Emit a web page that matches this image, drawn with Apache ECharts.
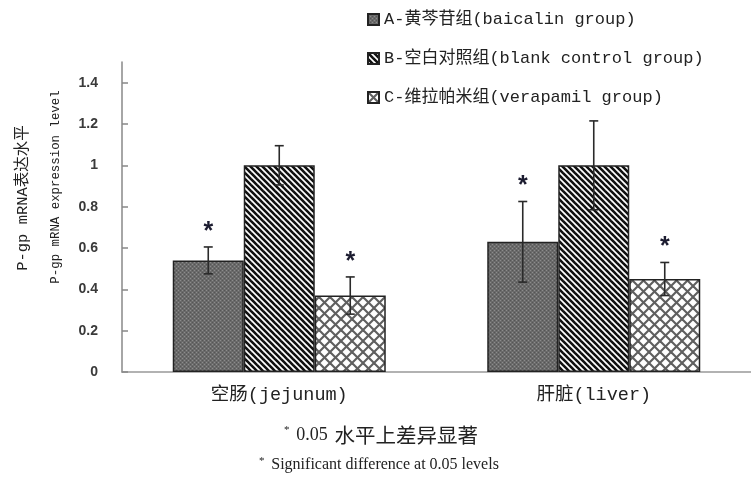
<!DOCTYPE html>
<html>
<head>
<meta charset="utf-8">
<script src="https://cdn.jsdelivr.net/npm/echarts@6/dist/echarts.min.js"></script>
<style>html,body{margin:0;padding:0;background:#fff}#c{width:751px;height:478px}</style>
</head>
<body>
<div id="c"></div>
<script>
// ---- data ----
const categories = ['空肠(jejunum)', '肝脏(liver)'];
const seriesNames = ['A-黄芩苷组(baicalin group)', 'B-空白对照组(blank control group)', 'C-维拉帕米组(verapamil group)'];
const valuesA = [0.54, 0.63];
const valuesB = [1.00, 1.00];
const valuesC = [0.37, 0.45];
const errorsA = [0.065, 0.195];
const errorsB = [0.095, 0.215];
const errorsC = [0.09, 0.08];
const signifA = [true, true];
const signifB = [false, false];
const signifC = [true, true];
const yTicks = [0, 0.2, 0.4, 0.6, 0.8, 1, 1.2, 1.4];
const yName1 = 'P-gp mRNA表达水平';
const yName2 = 'P-gp mRNA expression level';
const note1Num = '0.05';
const note1Txt = '水平上差异显著';
const note2 = 'Significant difference at 0.05 levels';

// ---- patterns ----
function makePattern(kind) {
  const c = document.createElement('canvas');
  let ctx;
  if (kind === 'A') {
    c.width = 4; c.height = 4; ctx = c.getContext('2d');
    ctx.fillStyle = '#6a6a6a'; ctx.fillRect(0, 0, 4, 4);
    ctx.fillStyle = '#8c8c8c'; ctx.fillRect(0, 0, 1, 1); ctx.fillRect(2, 2, 1, 1);
    ctx.fillStyle = '#555'; ctx.fillRect(2, 0, 1, 1); ctx.fillRect(0, 2, 1, 1);
  } else if (kind === 'B') {
    const s = 6; c.width = s; c.height = s; ctx = c.getContext('2d');
    ctx.fillStyle = '#fff'; ctx.fillRect(0, 0, s, s);
    ctx.strokeStyle = '#111'; ctx.lineWidth = 2.6;
    for (let k = -1; k <= 1; k++) {
      ctx.beginPath(); ctx.moveTo(k * s - 1, -1); ctx.lineTo(k * s + s + 1, s + 1); ctx.stroke();
    }
  } else {
    const s = 11; c.width = s; c.height = s; ctx = c.getContext('2d');
    ctx.fillStyle = '#fff'; ctx.fillRect(0, 0, s, s);
    ctx.strokeStyle = '#5f5f5f'; ctx.lineWidth = 2.1;
    ctx.beginPath(); ctx.moveTo(-1, -1); ctx.lineTo(s + 1, s + 1); ctx.stroke();
    ctx.beginPath(); ctx.moveTo(s + 1, -1); ctx.lineTo(-1, s + 1); ctx.stroke();
  }
  return { image: c, repeat: 'repeat' };
}

const BAR_W = 71;
const vals = [valuesA, valuesB, valuesC];
const errs = [errorsA, errorsB, errorsC];
const sigs = [signifA, signifB, signifC];
const errData = [];
for (let s = 0; s < 3; s++) {
  for (let i = 0; i < categories.length; i++) {
    errData.push([i, s, vals[s][i], errs[s][i], sigs[s][i] ? 1 : 0]);
  }
}

const latin = "'Liberation Mono','Noto Sans CJK SC'";
const chart = echarts.init(document.getElementById('c'));
const patterns = [makePattern('A'), makePattern('B'), makePattern('C')];

const barSeries = seriesNames.map((n, s) => ({
  name: n, type: 'bar', data: vals[s], barWidth: BAR_W, barGap: '0%',
  itemStyle: { color: patterns[s], borderColor: '#222', borderWidth: 1.5 },
  z: 2
}));

chart.setOption({
  animation: false,
  backgroundColor: '#fff',
  grid: { left: 122, top: 62, width: 634, height: 310, containLabel: false },
  legend: {
    orient: 'vertical', left: 362, top: 4, itemWidth: 11, itemHeight: 11, itemGap: 18,
    icon: 'rect',
    textStyle: { fontFamily: latin, fontSize: 17, color: '#222', lineHeight: 21 },
    data: seriesNames
  },
  xAxis: {
    type: 'category', data: categories,
    axisLine: { lineStyle: { color: '#999', width: 1.5 } },
    axisTick: { show: false },
    axisLabel: { margin: 14, fontFamily: latin, fontSize: 18.5, color: '#222' }
  },
  yAxis: {
    type: 'value', min: 0, max: 1.5,
    axisLine: { show: true, lineStyle: { color: '#888', width: 1.5 } },
    axisTick: { show: true, inside: true, length: 6, customValues: yTicks, lineStyle: { color: '#888', width: 1.5 } },
    axisLabel: { customValues: yTicks, margin: 24, fontFamily: "'Liberation Sans', Arial", fontSize: 14, fontWeight: 'bold', color: '#3a3a3a' },
    splitLine: { show: false }
  },
  series: barSeries.concat([{
    type: 'custom', name: 'err', z: 5,
    data: errData,
    encode: { x: 0, y: 2 },
    renderItem: function (params, api) {
      const ci = api.value(0), si = api.value(1), v = api.value(2), e = api.value(3), sig = api.value(4);
      const center = api.coord([ci, 0])[0] + (si - 1) * BAR_W;
      const top = api.coord([ci, v + e])[1];
      const bot = api.coord([ci, v - e])[1];
      const cap = 4.5;
      const st = { stroke: '#2a2a2a', lineWidth: 1.6 };
      const children = [
        { type: 'line', shape: { x1: center, y1: top, x2: center, y2: bot }, style: st },
        { type: 'line', shape: { x1: center - cap, y1: top, x2: center + cap, y2: top }, style: st },
        { type: 'line', shape: { x1: center - cap, y1: bot, x2: center + cap, y2: bot }, style: st }
      ];
      if (sig) {
        children.push({ type: 'text', style: { text: '*', x: center, y: top - 15, align: 'center', verticalAlign: 'middle', fontSize: 25, fontWeight: 'bold', fontFamily: "'Liberation Sans'", fill: '#1c1c30' } });
      }
      return { type: 'group', children: children };
    }
  }]),
  graphic: [
    { type: 'text', x: 23, y: 198, rotation: Math.PI / 2,
      style: { text: yName1, font: "15.5px 'Liberation Mono','Noto Sans CJK SC'", fill: '#222', align: 'center', verticalAlign: 'middle' } },
    { type: 'text', x: 56, y: 187, rotation: Math.PI / 2,
      style: { text: yName2, font: "12.4px 'Liberation Mono','Noto Sans CJK SC'", fill: '#222', align: 'center', verticalAlign: 'middle' } },
    { type: 'text', x: 381, y: 435,
      style: { text: '{s|*}  {n|' + note1Num + '}  {t|' + note1Txt + '}', align: 'center', verticalAlign: 'middle', fill: '#222',
        rich: { s: { fontSize: 11, fontFamily: "'Liberation Serif'", padding: [0, 0, 9, 0] },
                n: { fontSize: 18, fontFamily: "'Liberation Serif'" },
                t: { fontSize: 20.5, fontFamily: "'Noto Sans CJK SC'" } } } },
    { type: 'text', x: 379, y: 465,
      style: { text: '{s|*}  {t|' + note2 + '}', align: 'center', verticalAlign: 'middle', fill: '#222',
        rich: { s: { fontSize: 11, fontFamily: "'Liberation Serif'", padding: [0, 0, 8, 0] },
                t: { fontSize: 16, fontFamily: "'Liberation Serif'" } } } }
  ]
});
</script>
</body>
</html>
